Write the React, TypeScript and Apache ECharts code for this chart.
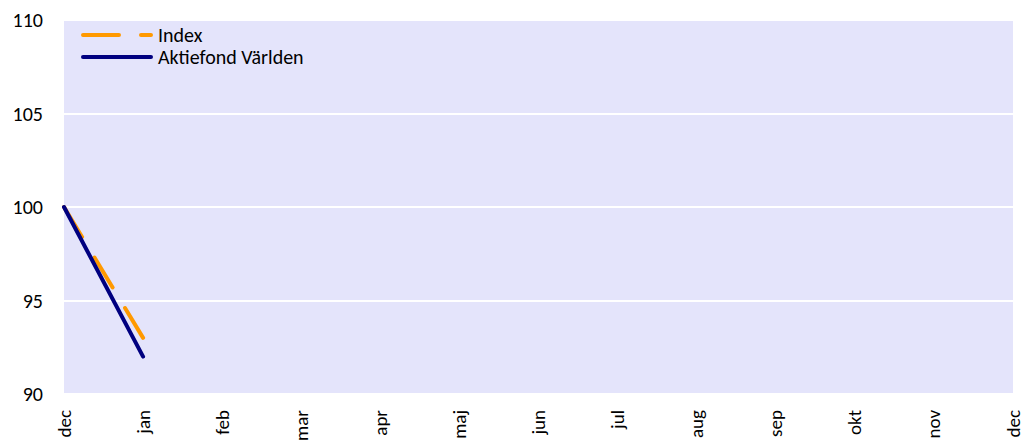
import React, { useEffect, useRef } from "react";
import * as echarts from "echarts";

const categories = ["dec", "jan", "feb", "mar", "apr", "maj", "jun", "jul", "aug", "sep", "okt", "nov", "dec"];
const indexValues: (number | null)[] = [100, 93, null, null, null, null, null, null, null, null, null, null, null];
const fundValues: (number | null)[] = [100, 92, null, null, null, null, null, null, null, null, null, null, null];
const yTicks = { min: 90, max: 110, interval: 5 };

export default function App() {
  const ref = useRef<HTMLDivElement>(null);
  useEffect(() => {
    if (!ref.current) return;
    const chart = echarts.init(ref.current, null, { renderer: "svg" });
    const font = "Carlito, 'Open Sans', 'Noto Sans', sans-serif";
    chart.setOption({
      animation: false,
      backgroundColor: "#ffffff",
      grid: {
        left: 64,
        right: 10,
        top: 20,
        bottom: 53,
        show: true,
        backgroundColor: "#E4E4FB",
        borderWidth: 0,
      },
      legend: {
        orient: "vertical",
        left: 81,
        top: 25,
        itemWidth: 72,
        itemHeight: 4,
        itemGap: 2,
        padding: 0,
        textStyle: { fontFamily: font, fontSize: 20, lineHeight: 20, color: "#000" },
        data: [
          { name: "Index", icon: "path://M2,0H38A2,2,0,0,1,38,4H2A2,2,0,0,1,2,0Z M60,0H70A2,2,0,0,1,70,4H60A2,2,0,0,1,60,0Z" },
          { name: "Aktiefond Världen", icon: "path://M2,0H70A2,2,0,0,1,70,4H2A2,2,0,0,1,2,0Z" },
        ],
      },
      xAxis: {
        type: "category",
        data: categories,
        boundaryGap: false,
        axisLine: { show: false },
        axisTick: { show: false },
        splitLine: { show: false },
        axisLabel: {
          rotate: 90,
          interval: 0,
          margin: 16,
          fontFamily: font,
          fontSize: 19,
          color: "#000",
        },
      },
      yAxis: {
        type: "value",
        min: yTicks.min,
        max: yTicks.max,
        interval: yTicks.interval,
        axisLine: { show: false },
        axisTick: { show: false },
        splitLine: { show: true, lineStyle: { color: "#ffffff", width: 2 } },
        axisLabel: {
          margin: 21,
          fontFamily: font,
          fontSize: 20,
          color: "#000",
        },
      },
      series: [
        {
          name: "Index",
          type: "line",
          data: indexValues,
          symbol: "none",
          connectNulls: false,
          z: 2,
          lineStyle: { color: "#FF9900", width: 4, type: [35, 24], cap: "round" },
          itemStyle: { color: "#FF9900" },
        },
        {
          name: "Aktiefond Världen",
          type: "line",
          data: fundValues,
          symbol: "none",
          connectNulls: false,
          z: 3,
          lineStyle: { color: "#000080", width: 4, cap: "round" },
          itemStyle: { color: "#000080" },
        },
      ],
    });
    return () => chart.dispose();
  }, []);
  return (
    <div
      ref={ref}
      style={{ position: "absolute", left: 0, top: 0, width: 1023, height: 447 }}
    />
  );
}
